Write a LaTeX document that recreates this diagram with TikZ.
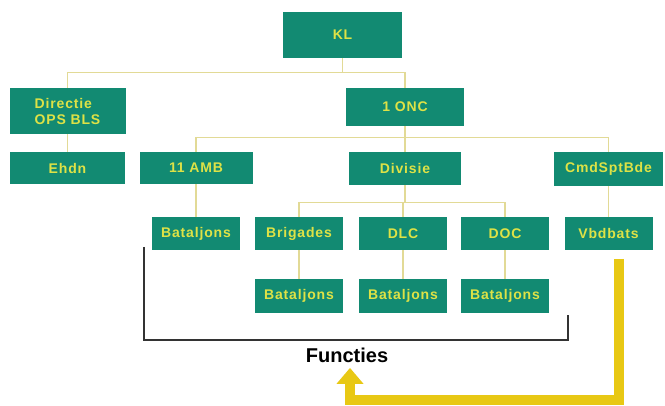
\documentclass[tikz,border=0pt]{standalone}
\usepackage{fontspec}
\setmainfont{Liberation Sans}
\usetikzlibrary{arrows.meta,calc}
\definecolor{teal1}{RGB}{18,138,114}
\definecolor{txtyel}{RGB}{222,226,70}
\definecolor{linkyel}{RGB}{226,218,150}
\definecolor{arryel}{RGB}{232,200,20}
\begin{document}
\begin{tikzpicture}[x=1pt,y=-1pt,
           box/.style={fill=teal1,text=txtyel,inner sep=1pt,
             font=\fontsize{14}{16}\selectfont\bfseries\addfontfeature{LetterSpace=6}},
           link/.style={draw=linkyel,line width=1.3pt},
           >={Triangle[width=26pt,length=16pt]}]
           \useasboundingbox(0,0)rectangle(665,406);
           \node[box,minimum width=119,minimum height=46](kl)at(342.5,35){KL};
           \node[box,minimum width=116,minimum height=46,align=left](dir)at(67.5,111){Directie\\OPS BLS};
           \node[box,minimum width=118,minimum height=38](onc)at(405,107){1 ONC};
           \node[box,minimum width=115,minimum height=32](ehdn)at(67.5,168){Ehdn};
           \node[box,minimum width=113,minimum height=32](amb)at(196,168){11 AMB};
           \node[box,minimum width=112,minimum height=33](div)at(405,168.5){Divisie};
           \node[box,minimum width=109,minimum height=34](cmd)at(608.5,169){CmdSptBde};
           \node[box,minimum width=88,minimum height=33](bat1)at(196,233.5){Bataljons};
           \node[box,minimum width=88,minimum height=33](brig)at(299,233.5){Brigades};
           \node[box,minimum width=88,minimum height=33](dlc)at(403,233.5){DLC};
           \node[box,minimum width=88,minimum height=33](doc)at(505,233.5){DOC};
           \node[box,minimum width=88,minimum height=33](vbd)at(608.5,233.5){Vbdbats};
           \node[box,minimum width=88,minimum height=34](bat2)at(299,296){Bataljons};
           \node[box,minimum width=88,minimum height=34](bat3)at(403,296){Bataljons};
           \node[box,minimum width=88,minimum height=34](bat4)at(505,296){Bataljons};
           \draw[link](kl.south)--++(0,14)coordinate(j1);
           \draw[link](dir.north)|-(j1)-|(onc.north);
           \draw[link](onc.south)--++(0,11)coordinate(j2);
           \draw[link](amb.north)|-(j2)-|(cmd.north);
           \draw[link](j2)--(div.north);
           \draw[link](dir)--(ehdn);
           \draw[link](amb)--(bat1);
           \draw[link](cmd)--(vbd);
           \draw[link](div.south)--++(0,17)coordinate(j3);
           \draw[link](brig.north)|-(j3)-|(doc.north);
           \draw[link](dlc.north)--(dlc.north|-j3);
           \draw[link](brig)--(bat2);
           \draw[link](dlc)--(bat3);
           \draw[link](doc)--(bat4);
           \coordinate(b1)at(144,247);
           \coordinate(b2)at(568,315);
           \draw[line width=2.2pt,black!80](b1)--(b1|-0,340)--(b2|-0,340)--(b2);
           \node[font=\fontsize{20}{22}\selectfont\bfseries](fun)at(347,355){Functies};
           \coordinate(a1)at(619,259);
           \draw[->,line width=10pt,arryel](a1)--(a1|-0,400)-|($(fun.south)+(3,2)$);
         \end{tikzpicture}
\end{document}
